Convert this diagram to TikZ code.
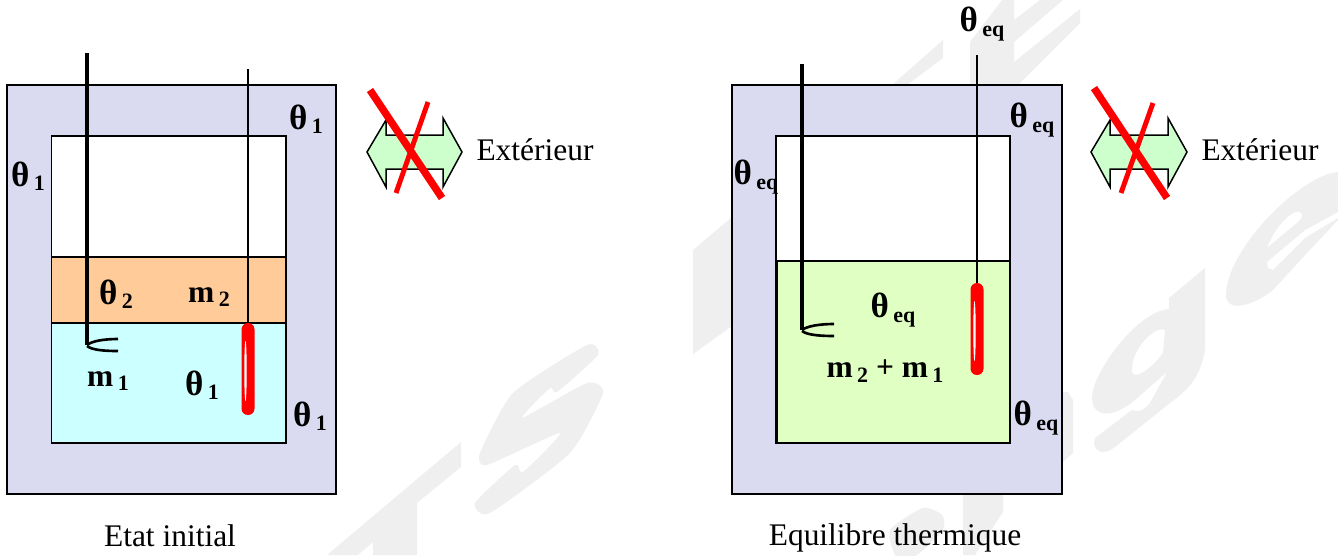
\documentclass[tikz,border=0pt]{standalone}
\usepackage{fontspec}
\setmainfont{Liberation Serif}
\newcommand{\thetalab}[1]{{\fontsize{20}{22}\selectfont\bfseries θ}\hspace{2.5pt}\raisebox{-2.5pt}{\fontsize{12.5}{14}\selectfont\bfseries #1}}
\newcommand{\masslab}[1]{{\bfseries m}\hspace{2.5pt}\raisebox{-2.5pt}{\fontsize{12.5}{14}\selectfont\bfseries #1}}
\definecolor{wallblue}{HTML}{DADAF1}
\definecolor{oilorange}{HTML}{FFCC99}
\definecolor{watercyan}{HTML}{CCFFFF}
\definecolor{mixgreen}{HTML}{E0FFC2}
\definecolor{arrowgreen}{HTML}{CCFFCC}
\definecolor{markgrey}{HTML}{EFEFEF}
\tikzset{
  txt/.style={font=\fontsize{17.9}{20}\selectfont,inner sep=0pt},
  wall/.style={draw=black,line width=0.85pt},
  stem/.style={line width=2pt},
  wire/.style={line width=0.7pt},
  tip/.style={line width=1.5pt},
  nocross/.style={draw=red,line cap=butt},
  watermark/.style={fill=markgrey,draw=none,even odd rule}
}
\begin{document}
\begin{tikzpicture}[x=0.02cm,y=-0.02cm]
  \useasboundingbox (0,0) rectangle (1338,555);

  % grey letters lying behind everything
  \fill[watermark] (461,442)--(461,467)--(417,503)--(417,555)--(373,555)--(373,542)--(358,555)--(327,555)--cycle;
  \fill[watermark] plot[smooth cycle,tension=0.35] coordinates
    {(598,355) (557,392) (550,388) (522,418) (587,383) (603,393) (570,453) (490,513) (475,503) (515,465) (523,472) (560,433) (487,465) (480,453) (513,393) (587,345)};
  \fill[watermark] (693,250)--(732,217)--(732,326)--(693,354)--cycle;
  \fill[watermark] (943,40)--(943,58)--(907,85)--(892,85)--cycle;
  \fill[watermark] (970,42)--(1002,0)--(1014,0)--(1014,20)--(1040,0)--(1063,0)--(1014,42)--(1014,62)--(1080,9)--(1080,23)--(1018,85)--(970,85)--cycle;
  \fill[watermark] (1062,392)--(1068,392)--(1073,400)--(1073,453)--(1062,463)--cycle;
  \fill[watermark] (963,490)--(1003,490)--(1003,512)--(975,555)--(963,555)--cycle;
  \fill[watermark] plot[smooth cycle,tension=0.4] coordinates {(890,530) (923,508) (942,515) (943,530) (917,555) (897,558)};
  \fill[watermark] (1205,268)--(1205,350) .. controls (1200,380) and (1185,392) .. (1170,403) -- (1115,447)
    .. controls (1105,455) and (1095,453) .. (1094,443) -- (1095,438) -- (1132,410)
    .. controls (1138,412) and (1142,412) .. (1150,403) -- (1167,372) -- (1135,400)
    .. controls (1115,417) and (1092,420) .. (1092,397) .. controls (1092,375) and (1135,312) .. (1169,309) -- (1169,298) -- cycle
    (1165,330) .. controls (1155,325) and (1130,350) .. (1132,372) .. controls (1135,380) and (1150,370) .. (1163,353) -- cycle;
  \fill[watermark] (1338,172) .. controls (1300,175) and (1226,250) .. (1226,295)
    .. controls (1226,312) and (1250,308) .. (1273,290) -- (1307,253) -- (1338,220) -- cycle
    (1338,212) -- (1305,230) -- (1267,262) -- (1268,268) -- (1273,270) -- (1305,238) -- (1338,218) -- cycle
    (1267,248) .. controls (1275,225) and (1295,208) .. (1300,212) .. controls (1305,215) and (1300,220) .. (1298,222) -- cycle;

  % --- initial state ---
  \draw[wall,fill=wallblue] (7,85) rectangle (336,494);
  \draw[wall,fill=white] (51.5,136) rectangle (286,443);
  \draw[wall,fill=oilorange] (51.5,257) rectangle (286,323);
  \draw[wall,fill=watercyan] (51.5,323) rectangle (286,443);

  \draw[stem] (87,53)--(87,345);
  \draw[tip] (87,345) .. controls (92,341) and (104,339) .. (118,339);
  \draw[tip] (87,346) .. controls (92,350) and (104,351) .. (118,351);
  \draw[wire] (248,69)--(248,323);
  \fill[red,rounded corners=3.6pt] (241.5,323) rectangle (254.5,415);
  \fill[white] (245.5,371) ellipse (1.2 and 30);

  \draw[wall,fill=arrowgreen] (367,152)--(386,120)--(386,135)--(443,135)--(443,118)--(462,152)--(443,187)--(443,169)--(386,169)--(386,187)--cycle;
  \draw[nocross,line width=4.2pt] (370,90)--(442,198);
  \draw[nocross,line width=2.8pt] (428,102)--(396,193);

  \node[txt] (thetaWallTop) at (306,119) {\thetalab{1}};
  \node[txt] (thetaWallLeft) at (28,176) {\thetalab{1}};
  \node[txt] (thetaOil) at (116,294) {\thetalab{2}};
  \node[txt] (massOil) at (209,297) {\masslab{2}};
  \node[txt] (massWater) at (108,381) {\masslab{1}};
  \node[txt] (thetaWater) at (202,385) {\thetalab{1}};
  \node[txt] (thetaWallLow) at (310,416) {\thetalab{1}};
  \node[txt] (outsideA) at (535,150) {Extérieur};
  \node[txt] (captionA) at (170,536) {Etat initial};

  % --- thermal equilibrium ---
  \draw[wall,fill=wallblue] (732,85) rectangle (1062,494);
  \draw[wall,fill=white] (776,136) rectangle (1010,443);
  \draw[wall,fill=mixgreen] (777,261) rectangle (1010,443);

  \draw[stem] (802,64)--(802,330);
  \draw[tip] (802,330) .. controls (807,326) and (820,324) .. (834,324);
  \draw[tip] (802,331) .. controls (807,335) and (820,336) .. (834,336);
  \draw[wire] (977,55)--(977,283);
  \fill[red,rounded corners=3.6pt] (970.5,283) rectangle (983.5,375);
  \fill[white] (974.5,331) ellipse (1.2 and 30);

  \draw[wall,fill=arrowgreen] (1091,152)--(1110,120)--(1110,135)--(1168,135)--(1168,118)--(1187,152)--(1168,187)--(1168,169)--(1110,169)--(1110,187)--cycle;
  \draw[nocross,line width=4.2pt] (1094,88)--(1167,198);
  \draw[nocross,line width=2.8pt] (1153,103)--(1121,193);

  \node[txt] (thetaProbe) at (982,24) {\thetalab{eq}};
  \node[txt] (thetaEqTop) at (1032,120) {\thetalab{eq}};
  \node[txt] (thetaEqLeft) at (756,177) {\thetalab{eq}};
  \node[txt] (thetaMix) at (893,310) {\thetalab{eq}};
  \node[txt] (massMix) at (885,371) {\masslab{2} {\bfseries +} \masslab{1}};
  \node[txt] (thetaEqLow) at (1036,418) {\thetalab{eq}};
  \node[txt] (outsideB) at (1260,150) {Extérieur};
  \node[txt] (captionB) at (895,538) {Equilibre thermique};
\end{tikzpicture}
\end{document}
